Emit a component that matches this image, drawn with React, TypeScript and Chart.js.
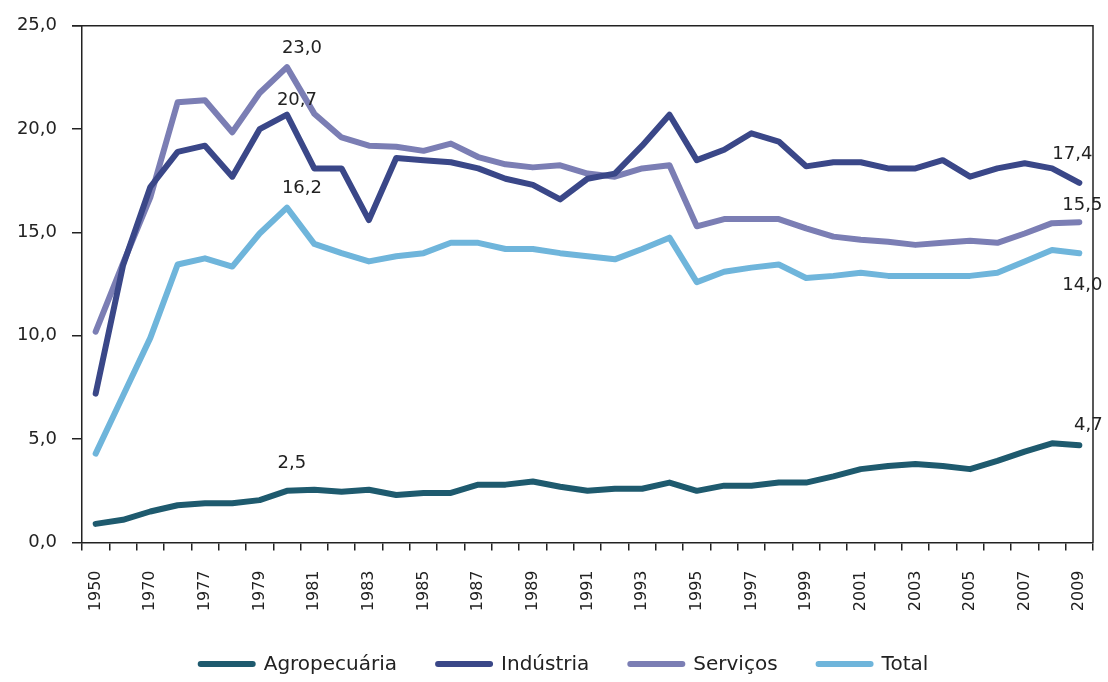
import React, { useEffect, useRef } from 'react';
import { Chart, registerables } from 'chart.js';

Chart.register(...registerables);

const categories = [
  '1950', '1960', '1970', '1975', '1977', '1978', '1979', '1980', '1981', '1982',
  '1983', '1984', '1985', '1986', '1987', '1988', '1989', '1990', '1991', '1992',
  '1993', '1994', '1995', '1996', '1997', '1998', '1999', '2000', '2001', '2002',
  '2003', '2004', '2005', '2006', '2007', '2008', '2009',
];

const agropecuaria = [
  0.9, 1.1, 1.5, 1.8, 1.9, 1.9, 2.05, 2.5, 2.55, 2.45,
  2.55, 2.3, 2.4, 2.4, 2.8, 2.8, 2.95, 2.7, 2.5, 2.6,
  2.6, 2.9, 2.5, 2.75, 2.75, 2.9, 2.9, 3.2, 3.55, 3.7,
  3.8, 3.7, 3.55, 3.95, 4.4, 4.8, 4.7,
];

const industria = [
  7.2, 13.4, 17.2, 18.9, 19.2, 17.7, 20.0, 20.7, 18.1, 18.1,
  15.6, 18.6, 18.5, 18.4, 18.1, 17.6, 17.3, 16.6, 17.6, 17.85,
  19.2, 20.7, 18.5, 19.0, 19.8, 19.4, 18.2, 18.4, 18.4, 18.1,
  18.1, 18.5, 17.7, 18.1, 18.35, 18.1, 17.4,
];

const servicos = [
  10.2, 13.5, 16.7, 21.3, 21.4, 19.85, 21.75, 23.0, 20.75, 19.6,
  19.2, 19.15, 18.95, 19.3, 18.65, 18.3, 18.15, 18.25, 17.85, 17.7,
  18.1, 18.25, 15.3, 15.65, 15.65, 15.65, 15.2, 14.8, 14.65, 14.55,
  14.4, 14.5, 14.6, 14.5, 14.95, 15.45, 15.5,
];

const total = [
  4.3, 7.1, 9.9, 13.45, 13.75, 13.35, 14.95, 16.2, 14.45, 14.0,
  13.6, 13.85, 14.0, 14.5, 14.5, 14.2, 14.2, 14.0, 13.85, 13.7,
  14.2, 14.75, 12.6, 13.1, 13.3, 13.45, 12.8, 12.9, 13.05, 12.9,
  12.9, 12.9, 12.9, 13.05, 13.6, 14.15, 14.0,
];

const seriesNames = ['Agropecuária', 'Indústria', 'Serviços', 'Total'];
const seriesColors = ['#1e5a6e', '#3a4788', '#7b7eb4', '#6fb5db'];

const yTicks = [0, 5, 10, 15, 20, 25];

// annotated points: [series index, category index] with label offsets (styling)
const valueLabels = [
  { series: 2, index: 7, dx: 15, dy: -19 },
  { series: 1, index: 7, dx: 10, dy: -14 },
  { series: 3, index: 7, dx: 15, dy: -19 },
  { series: 0, index: 7, dx: 5, dy: -28 },
  { series: 1, index: 36, dx: -7, dy: -29 },
  { series: 2, index: 36, dx: 3, dy: -17 },
  { series: 3, index: 36, dx: 3, dy: 32 },
  { series: 0, index: 36, dx: 9, dy: -20 },
];

const FONT = '"DejaVu Sans", sans-serif';
const INK = '#222';

const fmt = (v: number) => v.toFixed(1).replace('.', ',');

const boxPlugin = {
  id: 'boxFrame',
  afterDraw(chart: any) {
    const { ctx, chartArea: a } = chart;
    ctx.save();
    ctx.strokeStyle = INK;
    ctx.lineWidth = 1.5;
    ctx.beginPath();
    ctx.moveTo(a.left - 10, a.top);
    ctx.lineTo(a.right, a.top);
    ctx.lineTo(a.right, a.bottom);
    ctx.stroke();
    ctx.restore();
  },
};

const valueLabelPlugin = {
  id: 'valueLabels',
  afterDatasetsDraw(chart: any) {
    const { ctx } = chart;
    const xs = chart.scales.x;
    const ys = chart.scales.y;
    ctx.save();
    ctx.font = `18px ${FONT}`;
    ctx.fillStyle = INK;
    ctx.textAlign = 'center';
    ctx.textBaseline = 'middle';
    for (const l of valueLabels) {
      const v = chart.data.datasets[l.series].data[l.index] as number;
      const px = xs.getPixelForValue(l.index);
      const py = ys.getPixelForValue(v);
      ctx.fillText(fmt(v), px + l.dx, py + l.dy);
    }
    ctx.restore();
  },
};

const legendPlugin = {
  id: 'bottomLegend',
  afterDraw(chart: any) {
    const { ctx } = chart;
    const swatch = 58;
    const gapText = 8;
    const gapItem = 38;
    const centerX = 563;
    const y = 664;
    ctx.save();
    ctx.font = `20px ${FONT}`;
    const items = chart.data.datasets.map((d: any) => ({
      label: d.label,
      color: d.borderColor,
      w: ctx.measureText(d.label).width,
    }));
    const totalW =
      items.reduce((s: number, it: any) => s + swatch + gapText + it.w, 0) +
      gapItem * (items.length - 1);
    let x = centerX - totalW / 2;
    for (const it of items) {
      ctx.strokeStyle = it.color;
      ctx.lineWidth = 6;
      ctx.lineCap = 'round';
      ctx.beginPath();
      ctx.moveTo(x + 3, y);
      ctx.lineTo(x + swatch - 3, y);
      ctx.stroke();
      ctx.fillStyle = INK;
      ctx.textAlign = 'left';
      ctx.textBaseline = 'middle';
      ctx.fillText(it.label, x + swatch + gapText, y + 1);
      x += swatch + gapText + it.w + gapItem;
    }
    ctx.restore();
  },
};

export default function App() {
  const canvasRef = useRef<HTMLCanvasElement | null>(null);

  useEffect(() => {
    if (!canvasRef.current) return;
    const seriesData = [agropecuaria, industria, servicos, total];
    const chart = new Chart(canvasRef.current, {
      type: 'line',
      data: {
        labels: categories,
        datasets: seriesData.map((d, i) => ({
          label: seriesNames[i],
          data: d,
          borderColor: seriesColors[i],
          backgroundColor: seriesColors[i],
          borderWidth: 6,
          pointRadius: 0,
          pointHoverRadius: 0,
          tension: 0,
          borderJoinStyle: 'round' as const,
          borderCapStyle: 'round' as const,
          fill: false,
        })),
      },
      options: {
        animation: false,
        responsive: true,
        maintainAspectRatio: false,
        layout: { padding: { top: 25, left: 0, right: 15, bottom: 70 } },
        plugins: {
          legend: { display: false },
          tooltip: { enabled: false },
        },
        scales: {
          x: {
            type: 'category',
            offset: true,
            grid: {
              display: true,
              offset: true,
              drawOnChartArea: false,
              drawTicks: true,
              tickLength: 8,
              color: INK,
              lineWidth: 1.5,
            },
            border: { display: true, color: INK, width: 1.5 },
            ticks: {
              autoSkip: false,
              maxRotation: 90,
              minRotation: 90,
              padding: 20,
              color: INK,
              font: { family: FONT, size: 16 },
              callback: (_v: any, i: number) => (i % 2 === 0 ? categories[i] : ''),
            },
            afterFit: (scale: any) => {
              scale.height = 69.5;
              scale.paddingLeft = 0;
              scale.paddingRight = 0;
            },
          },
          y: {
            min: 0,
            max: 25,
            afterBuildTicks: (scale: any) => {
              scale.ticks = yTicks.map((v) => ({ value: v }));
            },
            grid: {
              display: true,
              drawOnChartArea: false,
              drawTicks: true,
              tickLength: 10,
              color: INK,
              lineWidth: 1.5,
            },
            border: { display: true, color: INK, width: 1.5 },
            ticks: {
              padding: 15,
              color: INK,
              font: { family: FONT, size: 18 },
              callback: (v: any) => fmt(Number(v)),
            },
            afterFit: (scale: any) => {
              scale.width = 82;
            },
          },
        },
      },
      plugins: [boxPlugin, valueLabelPlugin, legendPlugin],
    });
    return () => chart.destroy();
  }, []);

  return (
    <div style={{ position: 'absolute', left: 0, top: 0, width: 1108, height: 682, background: '#fff' }}>
      <canvas ref={canvasRef} />
    </div>
  );
}
